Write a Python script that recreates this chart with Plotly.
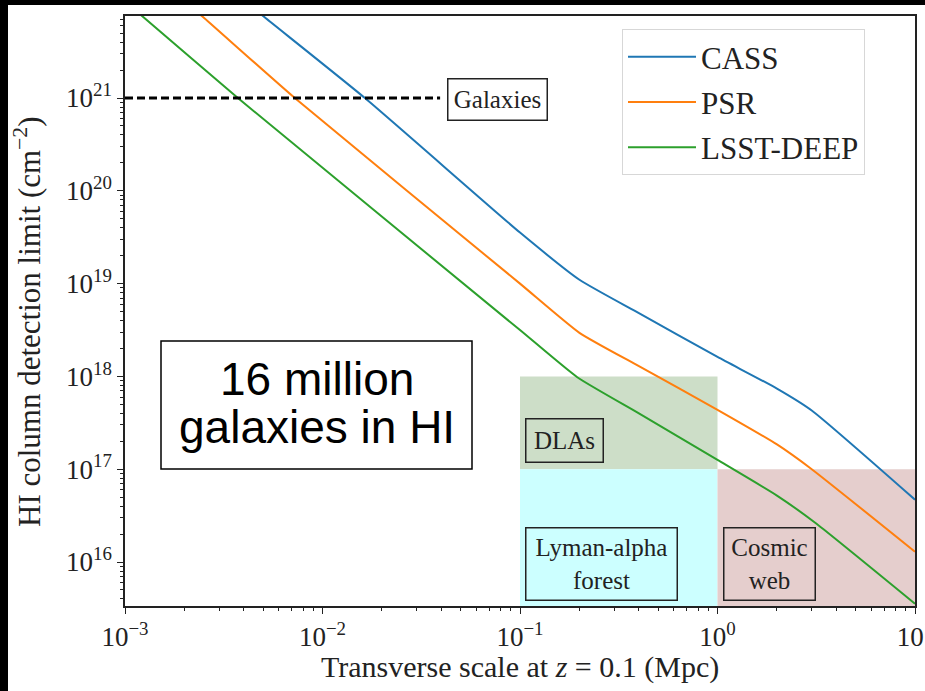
import plotly.graph_objects as go

# ---------------- data ----------------
series_names = ["CASS", "PSR", "LSST-DEEP"]
series_colors = ["#1f77b4", "#ff7f0e", "#2ca02c"]

cass_scale_mpc = [0.00316, 0.005, 0.0164, 0.1, 0.2, 0.4, 1.0, 2.0, 3.0, 10.0]
cass_nhi = [1.7e22, 7.66e21, 1.0e21, 3.55e19, 1.10e19, 4.8e18, 1.62e18, 7.4e17, 4.3e17, 4.7e16]

psr_scale_mpc = [0.00158, 0.00245, 0.00724, 0.1, 0.2, 0.4, 1.0, 2.0, 3.0, 10.0]
psr_nhi = [1.7e22, 7.66e21, 1.0e21, 1.0e19, 2.95e18, 1.29e18, 4.37e17, 1.85e17, 1.0e17, 1.29e16]

lsst_scale_mpc = [0.001, 0.00122, 0.00373, 0.1, 0.195, 0.4, 1.0, 2.0, 3.16, 10.0]
lsst_nhi = [1.1e22, 7.66e21, 1.0e21, 3.16e18, 9.8e17, 4.0e17, 1.26e17, 5.2e16, 2.6e16, 3.55e15]

galaxies_scale_mpc = [0.001, 0.0394]
galaxies_nhi = [1e21, 1e21]

region_labels = ["DLAs", "Lyman-alpha<br>forest", "Cosmic<br>web"]
region_x0 = [0.1, 0.1, 1.0]
region_x1 = [1.0, 1.0, 10.0]
region_y0 = [1e17, 1e15, 1e15]
region_y1 = [1e18, 1e17, 1e17]
region_colors = ["rgb(205,222,200)", "rgb(204,255,255)", "rgb(229,206,205)"]

x_tickvals = [1e-3, 1e-2, 1e-1, 1e0, 1e1]
x_ticktext = ["10<sup>−3</sup>", "10<sup>−2</sup>", "10<sup>−1</sup>", "10<sup>0</sup>", "10<sup>1</sup>"]
y_tickvals = [1e16, 1e17, 1e18, 1e19, 1e20, 1e21]
y_ticktext = ["10<sup>16</sup>", "10<sup>17</sup>", "10<sup>18</sup>", "10<sup>19</sup>", "10<sup>20</sup>", "10<sup>21</sup>"]

highlight_text = ["16 million", "galaxies in HI"]

SERIF = "Liberation Serif"
SANS = "Liberation Sans"
INK = "#222222"

# ---------------- figure ----------------
fig = go.Figure()

# shaded regions
for lab, x0, x1, y0, y1, col in zip(region_labels, region_x0, region_x1, region_y0, region_y1, region_colors):
    fig.add_trace(go.Scatter(
        x=[x0, x1, x1, x0, x0], y=[y0, y0, y1, y1, y0],
        mode="lines", fill="toself", fillcolor=col, line=dict(width=0),
        showlegend=False, hoverinfo="skip"))

# detection-limit curves
for name, col, xs, ys in zip(series_names, series_colors,
                             [cass_scale_mpc, psr_scale_mpc, lsst_scale_mpc],
                             [cass_nhi, psr_nhi, lsst_nhi]):
    fig.add_trace(go.Scatter(x=xs, y=ys, mode="lines", name=name,
                             line=dict(color=col, width=2, shape="spline", smoothing=0.5),
                             legendgroup=name))

# galaxies dashed line
fig.add_trace(go.Scatter(x=galaxies_scale_mpc, y=galaxies_nhi, mode="lines",
                         line=dict(color="black", width=3, dash="8px,4px"),
                         showlegend=False, hoverinfo="skip"))

# plot-area pixel geometry helpers (for decorations only)
L, R, T, B, W, H = 125, 10, 16, 85, 925, 691
PW, PH = W - L - R, H - T - B


def px(xp):
    return (xp - L) / PW


def py(yp):
    return (H - B - yp) / PH


# region label boxes
box_specs = [  # label, center x px, center y px, width, height
    ("Galaxies", 497, 99, 98, 40),
    ("DLAs", 564, 440, 76, 42),
    ("Lyman-alpha<br>forest", 601, 563.5, 150, 71),
    ("Cosmic<br>web", 769, 563.5, 90, 71),
]
for text, cx, cy, bw, bh in box_specs:
    fig.add_annotation(x=px(cx), y=py(cy), xref="paper", yref="paper",
                       text=text, showarrow=False, width=bw, height=bh,
                       font=dict(family=SERIF, size=25, color=INK),
                       bordercolor=INK, borderwidth=1.5, borderpad=0,
                       xanchor="center", yanchor="middle", align="center", valign="middle")

# "16 million galaxies in HI" box
fig.add_shape(type="rect", xref="paper", yref="paper",
              x0=px(161), x1=px(472), y0=py(469), y1=py(341),
              fillcolor="white", line=dict(color="black", width=1.5), layer="above")
for txt, cy in zip(highlight_text, [379, 427]):
    fig.add_annotation(x=px(316.5), y=py(cy), xref="paper", yref="paper",
                       text=txt, showarrow=False,
                       font=dict(family=SANS, size=46, color="black"),
                       xanchor="center", yanchor="middle")

# axis titles
fig.add_annotation(x=0.5, y=py(667), xref="paper", yref="paper",
                   text="Transverse scale at <i>z</i> = 0.1 (Mpc)", showarrow=False,
                   font=dict(family=SERIF, size=30, color=INK),
                   xanchor="center", yanchor="middle")
fig.add_annotation(x=px(27), y=py(322), xref="paper", yref="paper",
                   text="HI column detection limit (cm<sup>−2</sup>)", showarrow=False,
                   textangle=-90, font=dict(family=SERIF, size=31, color=INK),
                   xanchor="center", yanchor="middle")

# black border strips of the photographed slide
fig.add_shape(type="rect", xref="paper", yref="paper", x0=px(0), x1=px(8), y0=py(691), y1=py(0),
              fillcolor="black", line=dict(width=0), layer="above")
fig.add_shape(type="rect", xref="paper", yref="paper", x0=px(0), x1=px(925), y0=py(5), y1=py(0),
              fillcolor="black", line=dict(width=0), layer="above")

x_minor = [m * 10.0 ** e for e in range(-3, 1) for m in range(2, 10)]
y_minor = [m * 10.0 ** e for e in range(15, 22) for m in range(2, 10)]

axis_common = dict(showgrid=False, zeroline=False, showline=True, linecolor=INK, linewidth=1.5,
                   mirror=True, ticks="outside", ticklen=6, tickwidth=1.2, tickcolor=INK,
                   ticklabeloverflow="allow", automargin=False,
                   tickfont=dict(family=SERIF, size=27, color=INK))

fig.update_xaxes(type="log", range=[-3, 1], tickmode="array", tickvals=x_tickvals, ticktext=x_ticktext,
                 minor=dict(tickmode="array", tickvals=x_minor, ticks="outside", ticklen=3.5,
                            tickwidth=1, tickcolor=INK, showgrid=False),
                 **axis_common)
fig.update_yaxes(type="log", range=[15.526, 21.884], tickmode="array", tickvals=y_tickvals, ticktext=y_ticktext,
                 minor=dict(tickmode="array", tickvals=y_minor, ticks="outside", ticklen=3.5,
                            tickwidth=1, tickcolor=INK, showgrid=False),
                 **axis_common)

fig.update_layout(
    width=W, height=H,
    margin=dict(l=L, r=R, t=T, b=B, autoexpand=False),
    paper_bgcolor="white", plot_bgcolor="white",
    showlegend=True,
    legend=dict(x=px(622), y=py(29), xanchor="left", yanchor="top",
                bgcolor="white", bordercolor="rgb(215,215,215)", borderwidth=1,
                font=dict(family=SERIF, size=31, color=INK),
                itemwidth=68, tracegroupgap=2),
)

fig.write_html("out.html")
